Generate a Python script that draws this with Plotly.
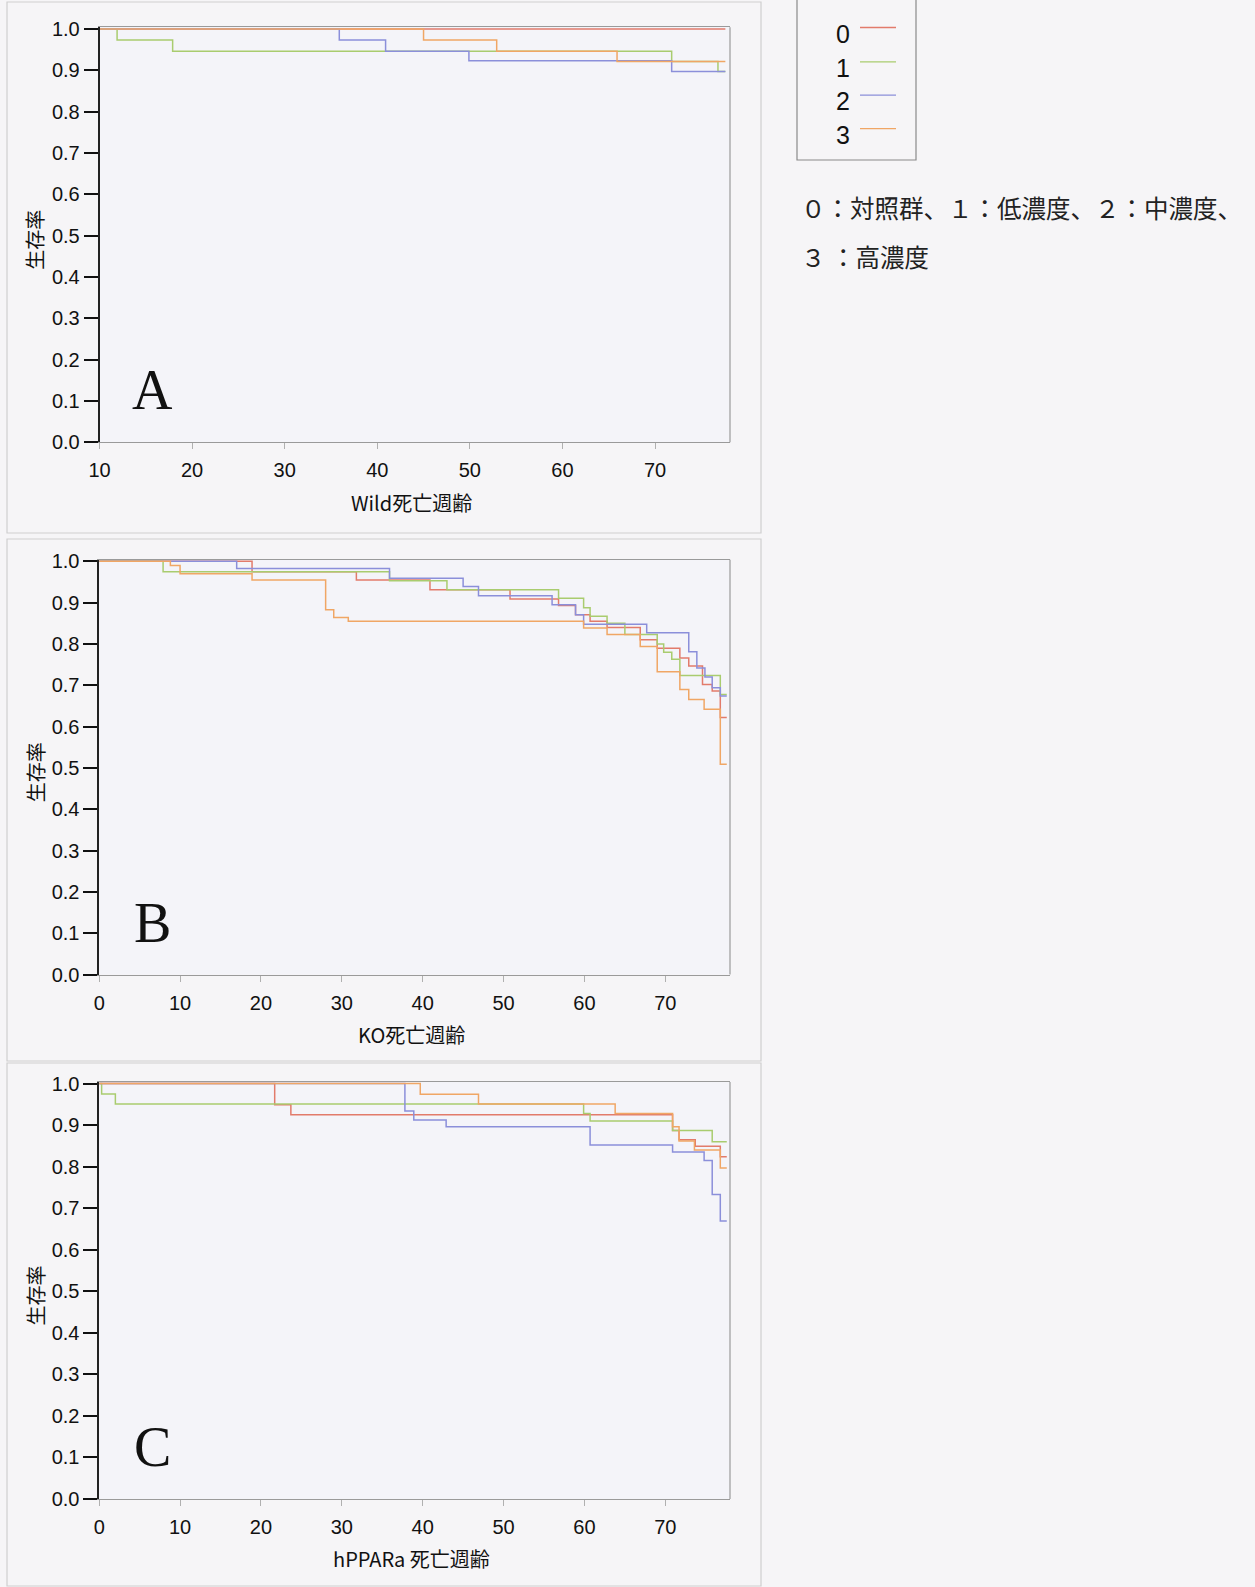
import plotly.graph_objects as go

W, H = 1255, 1587

# ---------------- data ----------------
groups = ["0", "1", "2", "3"]
group_colors = ["#e27b6b", "#a9cc6f", "#8b8fda", "#f0a665"]
panel_letters = ["A", "B", "C"]
xtitles = ["Wild死亡週齢", "KO死亡週齢", "hPPARa 死亡週齢"]
ytitle = "生存率"
note_line1 = "０：対照群、１：低濃度、２：中濃度、"
note_line2 = "３ ：高濃度"

xticks_a = [10, 20, 30, 40, 50, 60, 70]
xticks_bc = [0, 10, 20, 30, 40, 50, 60, 70]
yticks = [0.0, 0.1, 0.2, 0.3, 0.4, 0.5, 0.6, 0.7, 0.8, 0.9, 1.0]

# Panel A (Wild)
a_t0 = [10, 77.6]
a_s0 = [1.0, 1.0]
a_t1 = [10, 11.9, 17.9, 71.8, 76.8, 77.6]
a_s1 = [1.0, 0.973, 0.946, 0.921, 0.897, 0.897]
a_t2 = [10, 35.9, 40.9, 49.9, 71.8, 77.6]
a_s2 = [1.0, 0.973, 0.946, 0.923, 0.897, 0.897]
a_t3 = [10, 45.0, 52.9, 65.9, 77.6]
a_s3 = [1.0, 0.973, 0.946, 0.921, 0.921]

# Panel B (KO)
b_t0 = [0, 18.9, 31.8, 40.9, 50.8, 56.8, 58.9, 60.7, 62.8, 66.9, 69.0, 71.8, 72.9, 74.6, 75.8, 76.8, 77.6]
b_s0 = [1.0, 0.975, 0.955, 0.931, 0.909, 0.893, 0.871, 0.855, 0.840, 0.810, 0.790, 0.766, 0.747, 0.702, 0.686, 0.622, 0.622]
b_t1 = [0, 7.9, 35.9, 43.0, 56.8, 59.9, 60.7, 62.8, 65.0, 69.0, 69.8, 70.8, 71.8, 76.8, 77.6]
b_s1 = [1.0, 0.975, 0.953, 0.931, 0.911, 0.888, 0.867, 0.850, 0.823, 0.800, 0.780, 0.763, 0.724, 0.678, 0.678]
b_t2 = [0, 17.0, 35.9, 45.0, 46.9, 56.0, 58.9, 59.9, 67.7, 72.9, 73.9, 74.9, 75.8, 76.8, 77.6]
b_s2 = [1.0, 0.983, 0.959, 0.939, 0.917, 0.895, 0.871, 0.848, 0.827, 0.781, 0.742, 0.720, 0.694, 0.674, 0.674]
b_t3 = [0, 8.8, 10.0, 18.9, 28.0, 29.0, 30.8, 59.9, 62.8, 66.9, 69.0, 71.8, 72.9, 74.8, 76.8, 77.6]
b_s3 = [1.0, 0.990, 0.970, 0.955, 0.883, 0.864, 0.855, 0.839, 0.823, 0.794, 0.733, 0.690, 0.666, 0.642, 0.509, 0.509]

# Panel C (hPPARa)
c_t0 = [0, 21.7, 23.7, 70.9, 71.7, 73.7, 76.8, 77.6]
c_s0 = [1.0, 0.949, 0.925, 0.887, 0.865, 0.849, 0.824, 0.824]
c_t1 = [0, 0.3, 2.0, 59.9, 60.7, 70.9, 75.8, 77.6]
c_s1 = [1.0, 0.975, 0.951, 0.928, 0.910, 0.887, 0.860, 0.860]
c_t2 = [0, 37.8, 38.9, 42.9, 60.7, 70.9, 74.8, 75.8, 76.8, 77.6]
c_s2 = [1.0, 0.934, 0.912, 0.896, 0.852, 0.835, 0.815, 0.733, 0.669, 0.669]
c_t3 = [0, 39.7, 46.9, 63.8, 70.9, 71.7, 73.6, 76.8, 77.6]
c_s3 = [1.0, 0.974, 0.951, 0.928, 0.896, 0.862, 0.840, 0.797, 0.797]

panels = [
    [(a_t0, a_s0), (a_t1, a_s1), (a_t2, a_s2), (a_t3, a_s3)],
    [(b_t0, b_s0), (b_t1, b_s1), (b_t2, b_s2), (b_t3, b_s3)],
    [(c_t0, c_s0), (c_t1, c_s1), (c_t2, c_s2), (c_t3, c_s3)],
]

# ---------------- layout geometry (pixels) ----------------
def px(x):
    return x / W

def py(y):
    return 1 - y / H

plot_left = [99.5, 99.2, 99.2]
plot_right = [730, 730, 730]
plot_top = [27.3, 559.7, 1081.9]
plot_bottom = [442.3, 974.6, 1498.9]
xranges = [[10, 78.1], [0, 78.0], [0, 78.0]]

fig = go.Figure()
layout = dict(
    width=W, height=H, autosize=False,
    margin=dict(l=0, r=0, t=0, b=0, pad=0, autoexpand=False),
    paper_bgcolor="#f6f5f7",
    plot_bgcolor="#f4f4f9",
    showlegend=False,
    font=dict(family="Liberation Sans, Arial, sans-serif", color="#111"),
)

shapes = []
annotations = []
for i, series in enumerate(panels):
    xa = "x" if i == 0 else f"x{i+1}"
    ya = "y" if i == 0 else f"y{i+1}"
    for g, (t, s) in enumerate(series):
        fig.add_trace(go.Scatter(
            x=t, y=s, mode="lines", line=dict(color=group_colors[g], width=1.5, shape="hv"),
            name=groups[g], xaxis=xa, yaxis=ya, hoverinfo="skip"))
    xkey = "xaxis" if i == 0 else f"xaxis{i+1}"
    ykey = "yaxis" if i == 0 else f"yaxis{i+1}"
    layout[xkey] = dict(
        domain=[px(plot_left[i]), px(plot_right[i])],
        anchor=ya, range=xranges[i], automargin=False,
        tickvals=xticks_a if i == 0 else xticks_bc,
        ticks="outside", ticklen=6, tickcolor="#b0b0b0", tickwidth=1,
        showline=True, linecolor="#9a9a9a", linewidth=1.2, mirror=True,
        showgrid=False, zeroline=False,
        tickfont=dict(size=20, family="Liberation Sans, Arial, sans-serif", color="#111"),
        ticklabelstandoff=4,
    )
    layout[ykey] = dict(
        domain=[py(plot_bottom[i]), py(plot_top[i])],
        anchor=xa, range=[0, 1.004], automargin=False,
        tickvals=yticks, tickformat=".1f",
        ticks="outside", ticklen=14, tickwidth=2, tickcolor="#111",
        showline=True, linecolor="#222", linewidth=1.5,
        showgrid=False, zeroline=False,
        tickfont=dict(size=20, family="Liberation Sans, Arial, sans-serif", color="#111"),
    )
    # right border of plot area
    shapes.append(dict(type="line", xref="paper", yref="paper",
                       x0=px(plot_right[i]), x1=px(plot_right[i]),
                       y0=py(plot_bottom[i]), y1=py(plot_top[i]),
                       line=dict(color="#9a9a9a", width=1.2)))
    # panel letter
    annotations.append(dict(xref="paper", yref="paper", x=px(152), y=py(plot_bottom[i] - 52),
                            text=panel_letters[i], showarrow=False,
                            font=dict(family="Liberation Serif, Times New Roman, serif", size=56, color="#111"),
                            xanchor="center", yanchor="middle"))
    # x title
    annotations.append(dict(xref="paper", yref="paper", x=px(412), y=py(plot_bottom[i] + 60),
                            text=xtitles[i], showarrow=False,
                            font=dict(family="Noto Sans CJK JP, sans-serif", size=20, color="#111"),
                            xanchor="center", yanchor="middle"))
    # y title
    annotations.append(dict(xref="paper", yref="paper", x=px(35), y=py((plot_top[i] + plot_bottom[i]) / 2 + 5),
                            text=ytitle, showarrow=False, textangle=-90,
                            font=dict(family="Noto Sans CJK JP, sans-serif", size=20, color="#111"),
                            xanchor="center", yanchor="middle"))

# panel frames (scanned output boxes)
frames = [(7, 2, 761, 533), (7, 539, 761, 1061), (7, 1063, 761, 1586)]
for (x0, y0, x1, y1) in frames:
    shapes.append(dict(type="rect", xref="paper", yref="paper",
                       x0=px(x0), x1=px(x1), y0=py(y1), y1=py(y0),
                       line=dict(color="#cfcfcf", width=1.2), fillcolor="rgba(0,0,0,0)", layer="below"))

# legend box (top edge runs off the page)
lx0, lx1, ly0, ly1 = 797, 916, -3, 160
shapes.append(dict(type="rect", xref="paper", yref="paper",
                   x0=px(lx0), x1=px(lx1), y0=py(ly1), y1=py(ly0),
                   line=dict(color="#8a8a8a", width=1.2), fillcolor="rgba(0,0,0,0)"))
label_y = [33.5, 67.8, 101.2, 134.6]
for g in range(4):
    annotations.append(dict(xref="paper", yref="paper", x=px(843), y=py(label_y[g]),
                            text=groups[g], showarrow=False,
                            font=dict(family="Liberation Sans, Arial, sans-serif", size=25, color="#111"),
                            xanchor="center", yanchor="middle"))
    shapes.append(dict(type="line", xref="paper", yref="paper",
                       x0=px(860), x1=px(896), y0=py(label_y[g] - 6), y1=py(label_y[g] - 6),
                       line=dict(color=group_colors[g], width=1.3)))

# explanatory note
annotations.append(dict(xref="paper", yref="paper", x=px(799), y=py(207.5), text=note_line1,
                        showarrow=False, xanchor="left", yanchor="middle",
                        font=dict(family="Noto Sans CJK JP, sans-serif", size=24.5, color="#222")))
annotations.append(dict(xref="paper", yref="paper", x=px(799), y=py(256), text=note_line2,
                        showarrow=False, xanchor="left", yanchor="middle",
                        font=dict(family="Noto Sans CJK JP, sans-serif", size=24.5, color="#222")))

layout["shapes"] = shapes
layout["annotations"] = annotations
fig.update_layout(**layout)
fig.write_html(
    "out.html",
    config={"displayModeBar": False},
    post_script="document.body.style.margin='0';document.body.style.padding='0';"
                "document.documentElement.style.overflow='hidden';",
)
